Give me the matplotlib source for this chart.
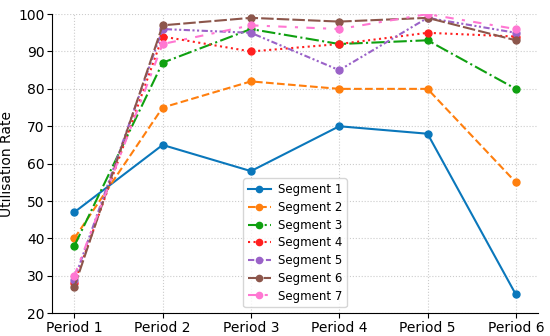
import matplotlib
matplotlib.use("Agg")
import matplotlib.pyplot as plt

periods = ["Period 1", "Period 2", "Period 3", "Period 4", "Period 5", "Period 6"]
seg1 = [47, 65, 58, 70, 68, 25]
seg2 = [40, 75, 82, 80, 80, 55]
seg3 = [38, 87, 96, 92, 93, 80]
seg4 = [28, 94, 90, 92, 95, 94]
seg5 = [29, 96, 95, 85, 99, 95]
seg6 = [27, 97, 99, 98, 99, 93]
seg7 = [30, 92, 97, 96, 100, 96]
names = ["Segment 1", "Segment 2", "Segment 3", "Segment 4", "Segment 5", "Segment 6", "Segment 7"]
series = [seg1, seg2, seg3, seg4, seg5, seg6, seg7]

colors = ["#0a77bb", "#ff7f0e", "#0fa010", "#ff1f1f", "#9a62c8", "#8c564b", "#ff77d2"]
styles = ["-", "--", "-.", ":", (0, (3, 1.2, 1, 1.2, 1, 1.2)), (0, (6, 1.5)), (0, (4, 4, 1.5, 4))]

fig, ax = plt.subplots(figsize=(5.5, 3.36), dpi=100)
fig.subplots_adjust(left=0.095, right=0.978, top=0.958, bottom=0.068)
x = list(range(len(periods)))
for s, n, c, ls in zip(series, names, colors, styles):
    ax.plot(x, s, label=n, color=c, linestyle=ls, marker="o", markersize=5, linewidth=1.5)

ax.set_xticks(x)
ax.set_xticklabels(periods, fontsize=10)
ax.set_ylim(20, 100)
ax.set_yticks(range(20, 101, 10))
ax.tick_params(axis="y", labelsize=10, pad=2)
ax.tick_params(axis="x", pad=2)
ax.set_ylabel("Utilisation Rate", fontsize=10, labelpad=3)
ax.grid(True, linestyle=":", color="#cccccc", linewidth=0.8)
ax.spines["top"].set_visible(False)
ax.spines["right"].set_visible(False)
ax.legend(loc="lower center", fontsize=8.5, handlelength=1.9, handletextpad=0.6,
          labelspacing=0.4, borderpad=0.4, markerscale=0.9)
fig.savefig("out.png", dpi=100)
